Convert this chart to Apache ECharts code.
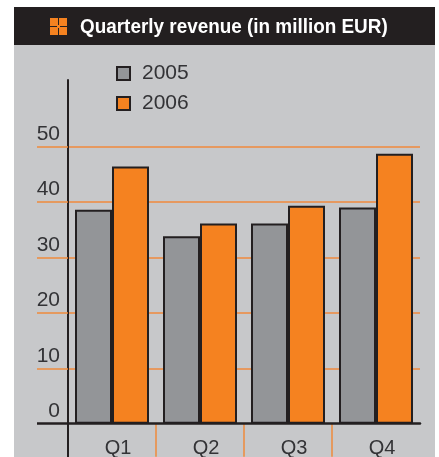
<!DOCTYPE html>
<html>
<head>
<meta charset="utf-8">
<title>Quarterly revenue</title>
<style>
	html, body { margin: 0; padding: 0; background: #fff; }
	#main { width: 439px; height: 457px; }
</style>
<script src="https://cdn.jsdelivr.net/npm/echarts@6/dist/echarts.min.js"></script>
</head>
<body>
<div id="main"></div>
<script>
var titleText = 'Quarterly revenue (in million EUR)';
var categories = ['Q1', 'Q2', 'Q3', 'Q4'];
var values2005 = [38.6, 33.8, 36.1, 39];
var values2006 = [46.4, 36.1, 39.3, 48.7];
var tickValues = [0, 10, 20, 30, 40, 50];
var gridValues = [10, 20, 30, 40, 50];
var zeroValues = [0];
var boundaryValues = [1, 2, 3];

var BLACK = '#231f20', GREY = '#939598', ORANGE = '#f58220', LINE = '#f08a3c', PANEL = '#c7c8ca', TEXT = '#333336';

var myChart = echarts.init(document.getElementById('main'));

// 分组柱子,黑色描边
function barSeries(name, data, color) {
	return {
		name: name,
		type: 'bar',
		data: data,
		barWidth: 37,
		barGap: 0,
		itemStyle: { color: color, borderColor: BLACK, borderWidth: 2 }
	};
}

function iconRect(x, y, w, h) {
	return { type: 'rect', z: -1, shape: { x: x, y: y, width: w, height: h }, style: { fill: ORANGE } };
}

myChart.setOption({
	animation: false,
	legend: {
		orient: 'vertical',
		left: 111,
		top: 58,
		itemWidth: 13,
		itemHeight: 13,
		itemGap: 9,
		icon: 'rect',
		selectedMode: false,
		textStyle: { color: TEXT, fontFamily: 'Liberation Sans', fontSize: 21, padding: [0, 0, 0, 7] },
		data: ['2005', '2006']
	},
	grid: { left: 68, right: 19, top: 80, bottom: 0, outerBoundsMode: 'none' },
	xAxis: [{
		type: 'category',
		data: categories,
		z: 5,
		axisLine: { onZero: true, lineStyle: { color: BLACK, width: 2.5 } },
		axisTick: { show: false },
		axisLabel: { inside: true, color: TEXT, fontFamily: 'Liberation Sans', fontSize: 20, margin: -1, padding: [0, 0, 0, 12] }
	}, {
		// 季度分隔短线,最右端不画
		type: 'value',
		position: 'bottom',
		min: 0,
		max: 4,
		axisLine: { show: false, onZero: true },
		axisTick: { show: true, length: 33, customValues: boundaryValues, lineStyle: { color: LINE, width: 1.5 } },
		axisLabel: { show: false },
		splitLine: { show: false }
	}],
	yAxis: [{
		type: 'value',
		min: -6,
		max: 62,
		axisLine: { show: true, lineStyle: { color: BLACK, width: 2 } },
		axisTick: { show: true, length: 31, customValues: gridValues, lineStyle: { color: LINE, width: 1.5 } },
		axisLabel: { color: TEXT, fontFamily: 'Liberation Sans', fontSize: 21, margin: 8, verticalAlign: 'bottom', padding: [0, 0, 2, 0], customValues: tickValues },
		splitLine: { show: true, lineStyle: { color: LINE, width: 1.5 } }
	}, {
		type: 'value',
		position: 'left',
		min: -6,
		max: 62,
		axisLine: { show: false },
		axisTick: { show: true, length: 31, customValues: zeroValues, lineStyle: { color: BLACK, width: 2.5 } },
		axisLabel: { show: false },
		splitLine: { show: false }
	}],
	series: [
		barSeries('2005', values2005, GREY),
		barSeries('2006', values2006, ORANGE)
	],
	graphic: [
		{ type: 'rect', z: -2, shape: { x: 14, y: 7, width: 421, height: 450 }, style: { fill: PANEL } },
		{ type: 'rect', z: -1, shape: { x: 14, y: 7, width: 421, height: 38 }, style: { fill: '#231f20' } },
		iconRect(50, 18, 8, 8),
		iconRect(59, 18, 8, 8),
		iconRect(50, 27, 8, 8),
		iconRect(59, 27, 8, 8),
		iconRect(57, 25, 3, 3),
		{
			type: 'text',
			z: 1,
			x: 80,
			y: 17,
			scaleX: 0.9,
			style: { text: titleText, fill: '#fff', font: 'bold 21px "Liberation Sans"' }
		}
	]
});
</script>
</body>
</html>
